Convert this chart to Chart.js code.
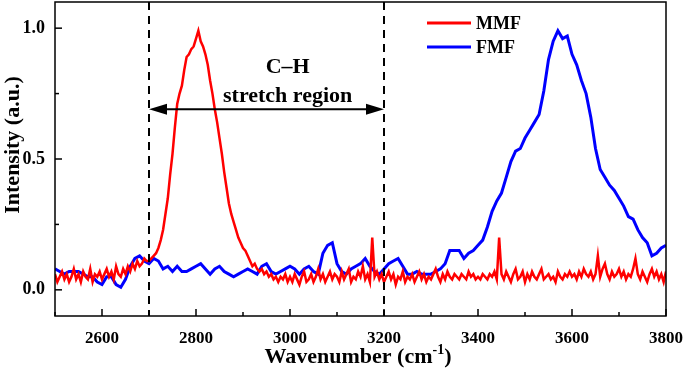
<!DOCTYPE html>
<html><head><meta charset="utf-8">
<script src="https://cdn.jsdelivr.net/npm/chart.js@4.4.1/dist/chart.umd.min.js"></script>
<style>html,body{margin:0;padding:0;background:#fff}canvas{display:block}</style>
</head><body><canvas id="c" width="685" height="368"></canvas>
<script>
// ---- data ----
const seriesNames = ['MMF', 'FMF'];
const redStart = 2500, redStep = 5;
const mmfValues = [
  .06,.03,.05,.07,.04,.06,.03,.05,.08,.04,
  .06,.03,.07,.05,.04,.08,.03,.06,.05,.07,
  .04,.06,.08,.05,.07,.04,.09,.06,.05,.08,
  .06,.09,.07,.10,.08,.11,.09,.10,.12,.11,
  .11,.12,.13,.14,.16,.19,.23,.29,.35,.44,
  .52,.62,.71,.75,.78,.84,.89,.90,.92,.93,
  .96,.99,.95,.93,.90,.86,.80,.75,.69,.64,
  .58,.52,.45,.39,.33,.29,.26,.23,.20,.18,
  .16,.15,.13,.11,.09,.10,.08,.07,.08,.06,
  .07,.05,.06,.04,.05,.03,.05,.04,.06,.03,
  .05,.03,.06,.04,.02,.05,.07,.03,.04,.06,
  .03,.05,.08,.04,.06,.03,.05,.07,.04,.06,
  .05,.03,.07,.04,.06,.08,.03,.05,.04,.07,
  .05,.09,.04,.06,.03,.20,.05,.07,.04,.06,
  .03,.05,.07,.04,.06,.02,.05,.04,.07,.03,
  .05,.04,.06,.03,.05,.07,.04,.06,.03,.05,
  .04,.06,.08,.05,.03,.06,.04,.07,.05,.04,
  .06,.05,.04,.06,.05,.04,.07,.05,.06,.04,
  .05,.04,.06,.05,.04,.06,.05,.07,.04,.20,
  .06,.04,.07,.05,.03,.06,.08,.04,.05,.07,
  .03,.06,.04,.07,.05,.04,.06,.08,.04,.05,
  .06,.04,.05,.03,.07,.05,.04,.06,.05,.07,
  .05,.06,.04,.07,.05,.08,.06,.05,.07,.04,
  .06,.13,.05,.08,.10,.06,.04,.07,.05,.06,
  .08,.05,.07,.04,.06,.05,.08,.12,.06,.04,
  .07,.05,.03,.06,.08,.05,.07,.04,.06,.03,.07
];
const blueStart = 2500, blueStep = 10;
const fmfValues = [
  .08,.07,.06,.07,.07,.07,.06,.05,.05,.03,
  .02,.05,.05,.02,.01,.04,.09,.12,.13,.11,
  .10,.12,.11,.08,.09,.07,.09,.07,.07,.08,
  .09,.10,.08,.06,.08,.09,.07,.06,.05,.06,
  .07,.08,.07,.06,.09,.10,.07,.06,.07,.08,
  .09,.08,.06,.08,.09,.07,.06,.14,.17,.18,
  .10,.07,.06,.08,.09,.10,.12,.09,.07,.06,
  .08,.10,.11,.12,.09,.06,.06,.07,.06,.06,
  .06,.07,.08,.10,.15,.15,.15,.12,.14,.15,
  .17,.19,.24,.30,.34,.37,.43,.49,.53,.54,
  .58,.61,.64,.67,.76,.88,.95,.99,.96,.97,
  .90,.86,.80,.75,.66,.54,.46,.43,.40,.38,
  .35,.32,.28,.27,.23,.20,.18,.13,.14,.16,.17
];
const xMajorTicks = [2600, 2800, 3000, 3200, 3400, 3600, 3800];
const xMinorTicks = [2500, 2700, 2900, 3100, 3300, 3500, 3700];
const yMajorTicks = [0, 0.5, 1.0];
const yMinorTicks = [0.25, 0.75];
const regionBounds = [2700, 3200];
const regionLabels = ['C\u2013H', 'stretch region'];
const arrowLevel = 0.69;
const labelCenterX = 2995;
const labelLevels = [0.85, 0.74];
const xTitle = 'Wavenumber (cm';
const xTitleSup = '-1';
const yTitle = 'Intensity (a.u.)';

const toPoints = (start, step, vals) => vals.map((v, i) => ({x: start + i * step, y: v}));

const FONT = '"Liberation Serif", "Times New Roman", serif';

const overlay = {
  id: 'overlay',
  afterDatasetsDraw(chart) {
    const ctx = chart.ctx, xs = chart.scales.x, ys = chart.scales.y, a = chart.chartArea;
    ctx.save();
    // dashed region lines
    ctx.strokeStyle = '#000'; ctx.lineWidth = 2; ctx.setLineDash([8, 6]);
    regionBounds.forEach(v => {
      const px = Math.round(xs.getPixelForValue(v));
      ctx.beginPath(); ctx.moveTo(px, a.top); ctx.lineTo(px, a.bottom); ctx.stroke();
    });
    ctx.setLineDash([]);
    // arrow
    const x1 = xs.getPixelForValue(regionBounds[0]), x2 = xs.getPixelForValue(regionBounds[1]);
    const ay = ys.getPixelForValue(arrowLevel);
    const hl = 18, hw = 5.5;
    ctx.lineWidth = 2;
    ctx.beginPath(); ctx.moveTo(x1 + hl - 2, ay); ctx.lineTo(x2 - hl + 2, ay); ctx.stroke();
    ctx.fillStyle = '#000';
    ctx.beginPath(); ctx.moveTo(x1, ay); ctx.lineTo(x1 + hl, ay - hw); ctx.lineTo(x1 + hl, ay + hw); ctx.closePath(); ctx.fill();
    ctx.beginPath(); ctx.moveTo(x2, ay); ctx.lineTo(x2 - hl, ay - hw); ctx.lineTo(x2 - hl, ay + hw); ctx.closePath(); ctx.fill();
    // labels
    ctx.font = 'bold 22px ' + FONT; ctx.textAlign = 'center'; ctx.textBaseline = 'middle';
    const lx = xs.getPixelForValue(labelCenterX);
    regionLabels.forEach((t, i) => ctx.fillText(t, lx, ys.getPixelForValue(labelLevels[i])));
    // frame
    ctx.lineWidth = 1.5; ctx.strokeStyle = '#000';
    ctx.strokeRect(a.left, a.top, a.right - a.left, a.bottom - a.top);
    // inward ticks
    ctx.lineWidth = 1.5;
    xMajorTicks.forEach(v => { const p = xs.getPixelForValue(v); ctx.beginPath(); ctx.moveTo(p, a.bottom); ctx.lineTo(p, a.bottom - 7); ctx.stroke(); });
    xMinorTicks.forEach(v => { const p = xs.getPixelForValue(v); ctx.beginPath(); ctx.moveTo(p, a.bottom); ctx.lineTo(p, a.bottom - 4); ctx.stroke(); });
    yMajorTicks.forEach(v => { const p = ys.getPixelForValue(v); ctx.beginPath(); ctx.moveTo(a.left, p); ctx.lineTo(a.left + 7, p); ctx.stroke(); });
    yMinorTicks.forEach(v => { const p = ys.getPixelForValue(v); ctx.beginPath(); ctx.moveTo(a.left, p); ctx.lineTo(a.left + 4, p); ctx.stroke(); });
    // legend
    const legY = [23, 47];
    chart.data.datasets.forEach((ds, i) => {
      ctx.strokeStyle = ds.borderColor; ctx.lineWidth = 3;
      ctx.beginPath(); ctx.moveTo(427, legY[i]); ctx.lineTo(471, legY[i]); ctx.stroke();
      ctx.fillStyle = '#000'; ctx.font = 'bold 18px ' + FONT; ctx.textAlign = 'left'; ctx.textBaseline = 'middle';
      ctx.fillText(ds.label, 476, legY[i] + 1);
    });
    // axis titles
    ctx.fillStyle = '#000';
    ctx.font = 'bold 22px ' + FONT; ctx.textBaseline = 'alphabetic'; ctx.textAlign = 'left';
    const w1 = ctx.measureText(xTitle).width;
    ctx.font = 'bold 14px ' + FONT;
    const w2 = ctx.measureText(xTitleSup).width;
    ctx.font = 'bold 22px ' + FONT;
    const w3 = ctx.measureText(')').width;
    const total = w1 + w2 + w3;
    const cx = 358, by = 363;
    let sx = cx - total / 2;
    ctx.fillText(xTitle, sx, by);
    ctx.font = 'bold 14px ' + FONT; ctx.fillText(xTitleSup, sx + w1, by - 9);
    ctx.font = 'bold 22px ' + FONT; ctx.fillText(')', sx + w1 + w2, by);
    ctx.save();
    ctx.translate(13, 145); ctx.rotate(-Math.PI / 2);
    ctx.textAlign = 'center'; ctx.textBaseline = 'middle';
    ctx.fillText(yTitle, 0, 0);
    ctx.restore();
    ctx.restore();
  }
};

new Chart(document.getElementById('c'), {
  type: 'line',
  data: {
    datasets: [
      { label: seriesNames[0], data: toPoints(redStart, redStep, mmfValues), borderColor: '#ff0000', borderWidth: 2.5, pointRadius: 0, tension: 0, fill: false },
      { label: seriesNames[1], data: toPoints(blueStart, blueStep, fmfValues), borderColor: '#0000ff', borderWidth: 3, pointRadius: 0, tension: 0, fill: false }
    ]
  },
  options: {
    responsive: false, animation: false,
    layout: { padding: { left: 0, top: 2, right: 19, bottom: 0 } },
    plugins: { legend: { display: false }, tooltip: { enabled: false } },
    scales: {
      x: {
        type: 'linear', min: 2500, max: 3800,
        grid: { display: false }, border: { display: false },
        afterBuildTicks: s => { s.ticks = xMinorTicks.concat(xMajorTicks).sort((p, q) => p - q).map(v => ({ value: v })); },
        afterFit: s => { s.height = 52; s.paddingLeft = 0; s.paddingRight = 0; },
        ticks: { autoSkip: false, maxRotation: 0, padding: 4, color: '#000', font: { family: FONT, size: 17, weight: 'bold' },
          callback: v => xMajorTicks.includes(v) ? String(v) : '' }
      },
      y: {
        min: -0.1, max: 1.1,
        grid: { display: false }, border: { display: false },
        afterBuildTicks: s => { s.ticks = yMajorTicks.concat(yMinorTicks).sort((p, q) => p - q).map(v => ({ value: v })); },
        afterFit: s => { s.width = 55; s.paddingTop = 0; s.paddingBottom = 0; },
        ticks: { padding: 2, color: '#000', font: { family: FONT, size: 18, weight: 'bold' },
          callback: v => yMajorTicks.includes(v) ? v.toFixed(1) : '' }
      }
    }
  },
  plugins: [overlay]
});
</script></body></html>
